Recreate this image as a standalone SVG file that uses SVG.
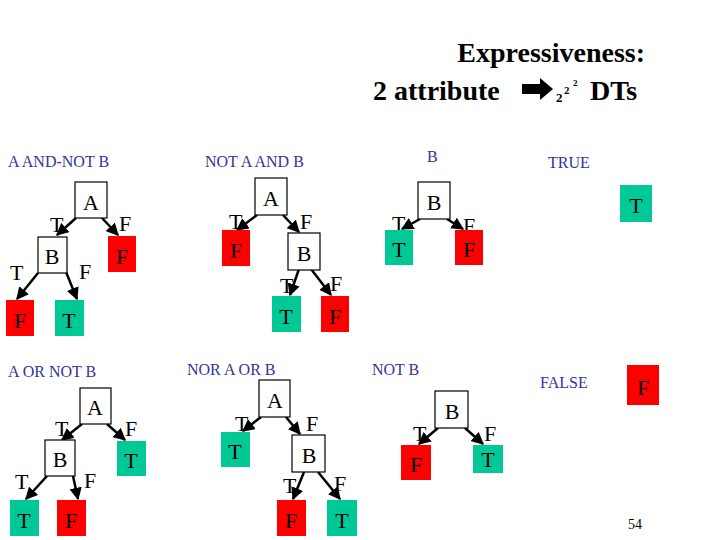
<svg xmlns="http://www.w3.org/2000/svg" width="720" height="540" viewBox="0 0 720 540">
<defs>
<marker id="ah" viewBox="0 0 10 10" refX="9" refY="5" markerWidth="5" markerHeight="5" orient="auto"><path d="M0,0L10,5L0,10z" fill="#000"/></marker>
</defs>
<style>
text{font-family:"Liberation Serif",serif;fill:#000}
.t{font-size:16px;fill:#333399}
.l{font-size:22px}
.n{fill:#fff;stroke:#000;stroke-width:1.2}
.r{fill:#f00}
.g{fill:#00c896}
.c line{stroke:#000;stroke-width:2.5;marker-end:url(#ah)}
</style>
<rect width="720" height="540" fill="#fff"/>
<g id="title" font-weight="bold">
<text x="645" y="62" text-anchor="end" font-size="28" font-weight="bold">Expressiveness:</text>
<text x="373" y="100" font-size="28" font-weight="bold">2 attribute</text>
<path d="M520,88 L530,80 L540,88 L530,96 Z" fill="none"/>
<path d="M522,84 L540,84 L540,78 L553,89 L540,100 L540,94 L522,94 Z" fill="#000"/>
<text x="556" y="102" font-size="13">2</text><text x="564" y="94" font-size="11">2</text><text x="573" y="86" font-size="9">2</text>
<text x="590" y="100" font-size="28" font-weight="bold">DTs</text>
</g>
<g class="c" id="connectors">
<line x1="76" y1="218" x2="57" y2="235"/><line x1="102" y1="218" x2="118" y2="235"/>
<line x1="38" y1="273" x2="17" y2="299"/><line x1="66" y1="272" x2="77" y2="299"/>
<line x1="257" y1="215" x2="237" y2="230"/><line x1="283" y1="215" x2="299" y2="232"/>
<line x1="299" y1="269" x2="290" y2="295"/><line x1="311" y1="269" x2="331" y2="295"/>
<line x1="420" y1="219" x2="402" y2="229"/><line x1="447" y1="219" x2="463" y2="229"/>
<line x1="82" y1="424" x2="62" y2="440"/><line x1="107" y1="424" x2="125" y2="440"/>
<line x1="47" y1="476" x2="26" y2="499"/><line x1="73" y1="476" x2="78" y2="499"/>
<line x1="261" y1="417" x2="243" y2="431"/><line x1="286" y1="417" x2="300" y2="434"/>
<line x1="304" y1="472" x2="293" y2="499"/><line x1="318" y1="472" x2="340" y2="499"/>
<line x1="438" y1="428" x2="419" y2="444"/><line x1="465" y1="428" x2="483" y2="444"/>
</g>
<g id="labels" class="l">
<text x="50" y="232">T</text><text x="119" y="231">F</text><text x="10" y="280">T</text><text x="79" y="279">F</text>
<text x="229" y="229">T</text><text x="300" y="229">F</text><text x="280" y="293">T</text><text x="330" y="291">F</text>
<text x="392" y="231">T</text><text x="463" y="233">F</text>
<text x="55" y="436">T</text><text x="125" y="436">F</text><text x="15" y="489">T</text><text x="84" y="488">F</text>
<text x="235" y="431">T</text><text x="306" y="431">F</text><text x="283" y="493">T</text><text x="334" y="491">F</text>
<text x="413" y="441">T</text><text x="484" y="441">F</text>
</g>
<g id="t1"><text class="t" x="8" y="167">A AND-NOT B</text>
<g id="t1a"><rect class="n" x="75" y="182" width="32" height="36"/><text class="l" x="91" y="210" text-anchor="middle">A</text></g>
<g id="t1b"><rect class="n" x="38" y="237" width="29" height="36"/><text class="l" x="52" y="264" text-anchor="middle">B</text></g>
<g id="t1f"><rect class="r" x="108" y="236" width="28" height="36"/><text class="l" x="122" y="264" text-anchor="middle">F</text></g>
<g id="t1ff"><rect class="r" x="6" y="300" width="28" height="36"/><text class="l" x="20" y="328" text-anchor="middle">F</text></g>
<g id="t1ft"><rect class="g" x="55" y="300" width="29" height="36"/><text class="l" x="69" y="328" text-anchor="middle">T</text></g>
</g>
<g id="t2"><text class="t" x="205" y="167">NOT A AND B</text>
<g id="t2a"><rect class="n" x="255" y="178" width="32" height="37"/><text class="l" x="271" y="206" text-anchor="middle">A</text></g>
<g id="t2f"><rect class="r" x="222" y="230" width="28" height="36"/><text class="l" x="236" y="258" text-anchor="middle">F</text></g>
<g id="t2b"><rect class="n" x="288" y="233" width="32" height="37"/><text class="l" x="304" y="261" text-anchor="middle">B</text></g>
<g id="t2t"><rect class="g" x="272" y="296" width="29" height="36"/><text class="l" x="286" y="324" text-anchor="middle">T</text></g>
<g id="t2ff"><rect class="r" x="321" y="296" width="28" height="36"/><text class="l" x="335" y="324" text-anchor="middle">F</text></g>
</g>
<g id="t3"><text class="t" x="427" y="162">B</text>
<g id="t3b"><rect class="n" x="418" y="182" width="32" height="37"/><text class="l" x="434" y="210" text-anchor="middle">B</text></g>
<g id="t3t"><rect class="g" x="385" y="230" width="28" height="35"/><text class="l" x="399" y="257" text-anchor="middle">T</text></g>
<g id="t3f"><rect class="r" x="455" y="230" width="28" height="35"/><text class="l" x="469" y="257" text-anchor="middle">F</text></g>
</g>
<g id="t4"><text class="t" x="548" y="168">TRUE</text>
<rect class="g" x="620" y="185" width="32" height="37"/><text class="l" x="636" y="213" text-anchor="middle">T</text></g>
<g id="t5"><text class="t" x="8" y="377">A OR NOT B</text>
<g id="t5a"><rect class="n" x="80" y="388" width="31" height="36"/><text class="l" x="95" y="415" text-anchor="middle">A</text></g>
<g id="t5b"><rect class="n" x="45" y="440" width="30" height="36"/><text class="l" x="60" y="467" text-anchor="middle">B</text></g>
<g id="t5t"><rect class="g" x="117" y="441" width="29" height="35"/><text class="l" x="131" y="468" text-anchor="middle">T</text></g>
<g id="t5tt"><rect class="g" x="10" y="500" width="29" height="36"/><text class="l" x="24" y="528" text-anchor="middle">T</text></g>
<g id="t5ff"><rect class="r" x="57" y="500" width="29" height="36"/><text class="l" x="71" y="528" text-anchor="middle">F</text></g>
</g>
<g id="t6"><text class="t" x="187" y="375">NOR A OR B</text>
<g id="t6a"><rect class="n" x="259" y="380" width="31" height="37"/><text class="l" x="275" y="408" text-anchor="middle">A</text></g>
<g id="t6t"><rect class="g" x="221" y="432" width="29" height="35"/><text class="l" x="235" y="459" text-anchor="middle">T</text></g>
<g id="t6b"><rect class="n" x="292" y="435" width="33" height="37"/><text class="l" x="309" y="463" text-anchor="middle">B</text></g>
<g id="t6ff"><rect class="r" x="277" y="500" width="29" height="36"/><text class="l" x="291" y="528" text-anchor="middle">F</text></g>
<g id="t6tt"><rect class="g" x="327" y="500" width="30" height="36"/><text class="l" x="342" y="528" text-anchor="middle">T</text></g>
</g>
<g id="t7"><text class="t" x="372" y="375">NOT B</text>
<g id="t7b"><rect class="n" x="435" y="391" width="33" height="37"/><text class="l" x="452" y="419" text-anchor="middle">B</text></g>
<g id="t7f"><rect class="r" x="401" y="445" width="30" height="35"/><text class="l" x="416" y="472" text-anchor="middle">F</text></g>
<g id="t7t"><rect class="g" x="473" y="445" width="30" height="28"/><text class="l" x="488" y="467" text-anchor="middle">T</text></g>
</g>
<g id="t8"><text class="t" x="540" y="388">FALSE</text>
<rect class="r" x="627" y="365" width="32" height="40"/><text class="l" x="643" y="395" text-anchor="middle">F</text></g>
<text x="628" y="529" font-size="14">54</text>
</svg>
